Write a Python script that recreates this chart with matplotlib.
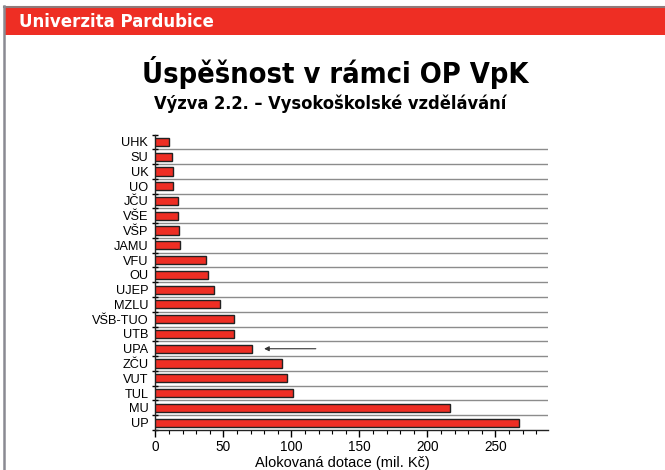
import matplotlib
matplotlib.use("Agg")
import matplotlib.pyplot as plt
from matplotlib.patches import Rectangle
from matplotlib.lines import Line2D
import numpy as np

categories = ["UHK", "SU", "UK", "UO", "JČU", "VŠE", "VŠP", "JAMU", "VFU", "OU",
              "UJEP", "MZLU", "VŠB-TUO", "UTB", "UPA", "ZČU", "VUT", "TUL", "MU", "UP"]
values = [10.3, 12.0, 12.8, 13.2, 16.7, 16.5, 17.6, 18.2, 37.0, 39.0,
          43.4, 47.8, 57.6, 58.1, 71.3, 92.9, 96.6, 101.0, 216.9, 267.2]
x_ticks = [0, 50, 100, 150, 200, 250]
highlight = "UPA"
arrow_from, arrow_to = 118, 80

W, H = 665, 470
fig = plt.figure(figsize=(W / 100, H / 100), dpi=100)
fig.patch.set_facecolor("white")

red = "#EE2E24"
# frame / banner
fig.add_artist(Rectangle((5 / W, 1 - 35 / H), 1 - 5 / W, 27 / H, transform=fig.transFigure,
                         facecolor=red, edgecolor="none"))
fig.add_artist(Line2D([3.5 / W, 1], [1 - 6.5 / H, 1 - 6.5 / H], transform=fig.transFigure,
                      color="#8e7a7a", lw=1.5))
fig.add_artist(Line2D([4 / W, 4 / W], [0, 1 - 6 / H], transform=fig.transFigure,
                      color="#8a8a92", lw=1.8))
fig.text(19 / W, 1 - 22 / H, "Univerzita Pardubice", color="white", fontsize=12,
         fontweight="bold", family="DejaVu Sans", va="center", ha="left")

fig.text(335 / W, 1 - 83.3 / H, "Úspěšnost v rámci OP VpK", fontsize=20.8, fontweight="bold",
         family="DejaVu Sans", fontstretch="condensed", ha="center", va="baseline")
fig.text(330 / W, 1 - 109.3 / H, "Výzva 2.2. – Vysokoškolské vzdělávání", fontsize=13.1,
         fontweight="bold", family="DejaVu Sans", fontstretch="condensed",
         ha="center", va="baseline")

ax = fig.add_axes([155.3 / W, 1 - 430 / H, (547.7 - 155.3) / W, (430 - 134.5) / H])
n = len(categories)
y = np.arange(n)
ax.barh(y, values, height=0.55, color=red, edgecolor="#222222", linewidth=1.0, zorder=3)
ax.set_ylim(n - 0.5, -0.5)
ax.set_xlim(0, 288.5)

for b in np.arange(0.5, n - 0.5, 1):
    ax.axhline(b, color="#8c8c8c", lw=1.0, zorder=1)

ax.set_yticks(y)
ax.set_yticklabels(categories, fontsize=9.2, family="Liberation Sans")
ax.tick_params(axis="y", which="major", length=0, pad=5)
ax.set_yticks(np.arange(-0.5, n, 1), minor=True)
ax.tick_params(axis="y", which="minor", length=5, direction="inout", width=1)

ax.set_xticks(x_ticks)
ax.set_xticklabels([str(t) for t in x_ticks], fontsize=9.8, family="Liberation Sans")
ax.set_xticks(np.arange(0, 290, 10), minor=True)
ax.tick_params(axis="x", which="major", length=5, width=1, direction="out", pad=2.5)
ax.tick_params(axis="x", which="minor", length=3, width=0.8, direction="out")
fig.text(342 / W, 0.5 / H, "Alokovaná dotace (mil. Kč)", fontsize=10.5, family="Liberation Sans",
         ha="center", va="bottom")

for s in ["top", "right"]:
    ax.spines[s].set_visible(False)
for s in ["left", "bottom"]:
    ax.spines[s].set_linewidth(1.0)
    ax.spines[s].set_color("#222222")

yi = categories.index(highlight)
ax.annotate("", xy=(arrow_to, yi), xytext=(arrow_from, yi),
            arrowprops=dict(arrowstyle="-|>", color="#333333", lw=0.8,
                            mutation_scale=7, shrinkA=0, shrinkB=0), zorder=4)

fig.savefig("out.png", dpi=100)
